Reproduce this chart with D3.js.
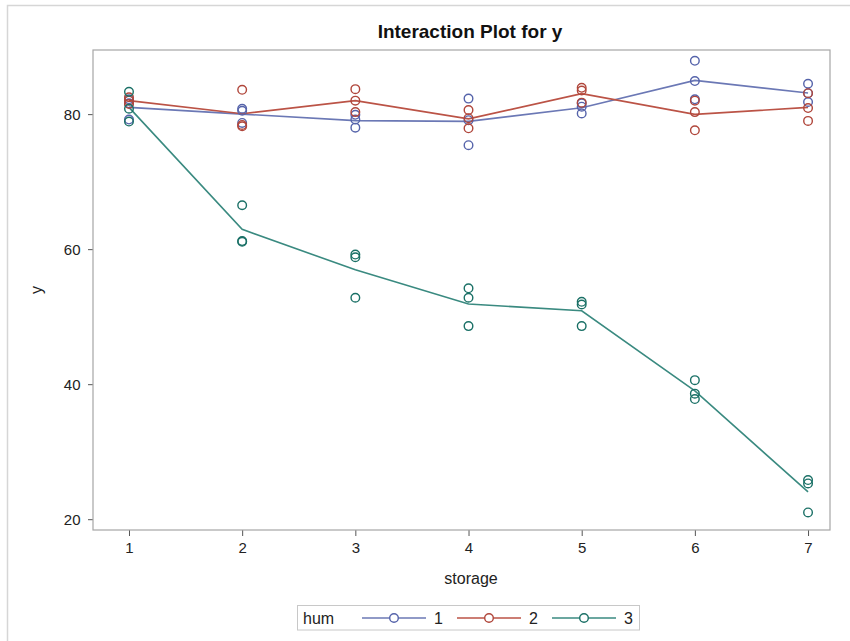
<!DOCTYPE html>
<html>
<head>
<meta charset="utf-8">
<script src="https://cdn.jsdelivr.net/npm/d3@7"></script>
<style>
  html, body { margin: 0; padding: 0; background: #fff; }
  svg { display: block; font-family: "Liberation Sans", Arial, sans-serif; }
</style>
</head>
<body>
<svg id="chart" width="850" height="641"></svg>
<script>
// ---- data ----
const storageLevels = [1, 2, 3, 4, 5, 6, 7];
const humLevels = ["1", "2", "3"];
// observations per storage level (3 replicates each)
const hum1Values = [
  [82.2, 81.6, 79.2],
  [80.8, 80.5, 78.7],
  [79.9, 79.2, 78.0],
  [82.3, 79.1, 75.4],
  [81.6, 81.1, 80.1],
  [87.9, 84.9, 82.2],
  [84.5, 83.1, 81.8]
];
const hum2Values = [
  [82.5, 82.0, 81.5],
  [83.6, 78.4, 78.2],
  [83.7, 82.0, 80.3],
  [80.6, 79.4, 77.9],
  [83.9, 83.5, 81.7],
  [82.0, 80.3, 77.6],
  [83.1, 80.9, 79.0]
];
const hum3Values = [
  [83.3, 80.8, 78.9],
  [66.5, 61.2, 61.1],
  [59.2, 58.8, 52.8],
  [54.2, 52.8, 48.6],
  [52.2, 51.8, 48.6],
  [40.6, 38.6, 37.8],
  [25.8, 25.3, 21.0]
];
const yTicks = [20, 40, 60, 80];
const seriesColors = { "1": "#5563AA", "2": "#B0463B", "3": "#1A7066" };
const lineColors = { "1": "#6B78B5", "2": "#BB5346", "3": "#3A8A80" };

const series = [
  { hum: "1", values: hum1Values },
  { hum: "2", values: hum2Values },
  { hum: "3", values: hum3Values }
];

// ---- layout ----
const svg = d3.select("#chart");
const plot = { left: 93, right: 830, top: 50, bottom: 530 };
const font = "'Liberation Sans', Arial, sans-serif";

// page border
svg.append("path")
  .attr("d", "M7.5,641 V5.5 H850")
  .attr("fill", "none").attr("stroke", "#d6d6d6").attr("stroke-width", 1.5);

const x = d3.scaleLinear().domain([0.682, 7.194]).range([plot.left, plot.right]);
const y = d3.scaleLinear().domain([18.4, 89.5]).range([plot.bottom, plot.top]);

// title
svg.append("text")
  .attr("x", 470).attr("y", 38)
  .attr("text-anchor", "middle")
  .attr("font-size", 19).attr("font-weight", "bold").attr("fill", "#111")
  .text("Interaction Plot for y");

// axes
const xAxis = d3.axisBottom(x).tickValues(storageLevels).tickFormat(d3.format("d")).tickSize(6).tickSizeOuter(0);
const yAxis = d3.axisLeft(y).tickValues(yTicks).tickFormat(d3.format("d")).tickSize(5).tickSizeOuter(0);

const gx = svg.append("g").attr("transform", `translate(0,${plot.bottom})`).call(xAxis);
const gy = svg.append("g").attr("transform", `translate(${plot.left},0)`).call(yAxis);
[gx, gy].forEach(g => {
  g.attr("font-size", null).attr("font-family", null);
  g.select(".domain").remove();
  g.selectAll(".tick line").attr("stroke", "#555");
  g.selectAll(".tick text")
    .style("font-size", "15px").style("font-family", font)
    .attr("fill", "#222");
});
gx.selectAll(".tick text").attr("dy", "0.95em");
gy.selectAll(".tick text").attr("dx", "-0.3em").attr("dy", "0.36em");

// frame
svg.append("rect")
  .attr("x", plot.left).attr("y", plot.top)
  .attr("width", plot.right - plot.left).attr("height", plot.bottom - plot.top)
  .attr("fill", "none").attr("stroke", "#a6a6a6").attr("stroke-width", 1.2);

// axis labels
svg.append("text")
  .attr("x", 471).attr("y", 584)
  .attr("text-anchor", "middle").style("font-size", "16px").attr("fill", "#222")
  .text("storage");
svg.append("text")
  .attr("transform", `translate(42,${(plot.top + plot.bottom) / 2}) rotate(-90)`)
  .attr("text-anchor", "middle").style("font-size", "16px").attr("fill", "#222")
  .text("y");

// lines of means
const line = d3.line().x(d => x(d.storage)).y(d => y(d.mean));
series.forEach(s => {
  const means = storageLevels.map((st, i) => ({ storage: st, mean: d3.mean(s.values[i]) }));
  svg.append("path").datum(means)
    .attr("d", line)
    .attr("fill", "none")
    .attr("stroke", lineColors[s.hum])
    .attr("stroke-width", 1.6);
});

// points
series.forEach(s => {
  const pts = [];
  storageLevels.forEach((st, i) => s.values[i].forEach(v => pts.push({ storage: st, v })));
  svg.append("g").selectAll("circle").data(pts).join("circle")
    .attr("cx", d => x(d.storage))
    .attr("cy", d => y(d.v))
    .attr("r", 4.3)
    .attr("fill", "none")
    .attr("stroke", seriesColors[s.hum])
    .attr("stroke-width", 1.4);
});

// legend
const leg = svg.append("g");
leg.append("rect")
  .attr("x", 297.5).attr("y", 605.5).attr("width", 342).attr("height", 24.5)
  .attr("fill", "#fff").attr("stroke", "#c8c8c8").attr("stroke-width", 1);
leg.append("text").attr("x", 303).attr("y", 624)
  .style("font-size", "16px").attr("fill", "#222").text("hum");
const legX = d3.scalePoint().domain(humLevels).range([362, 552]);
humLevels.forEach(h => {
  const x0 = legX(h);
  leg.append("line")
    .attr("x1", x0).attr("x2", x0 + 64)
    .attr("y1", 618).attr("y2", 618)
    .attr("stroke", lineColors[h]).attr("stroke-width", 1.6);
  leg.append("circle")
    .attr("cx", x0 + 32).attr("cy", 618).attr("r", 4.3)
    .attr("fill", "#fff").attr("stroke", seriesColors[h]).attr("stroke-width", 1.4);
  leg.append("text")
    .attr("x", x0 + 72).attr("y", 624)
    .style("font-size", "16px").attr("fill", "#222").text(h);
});
</script>
</body>
</html>
